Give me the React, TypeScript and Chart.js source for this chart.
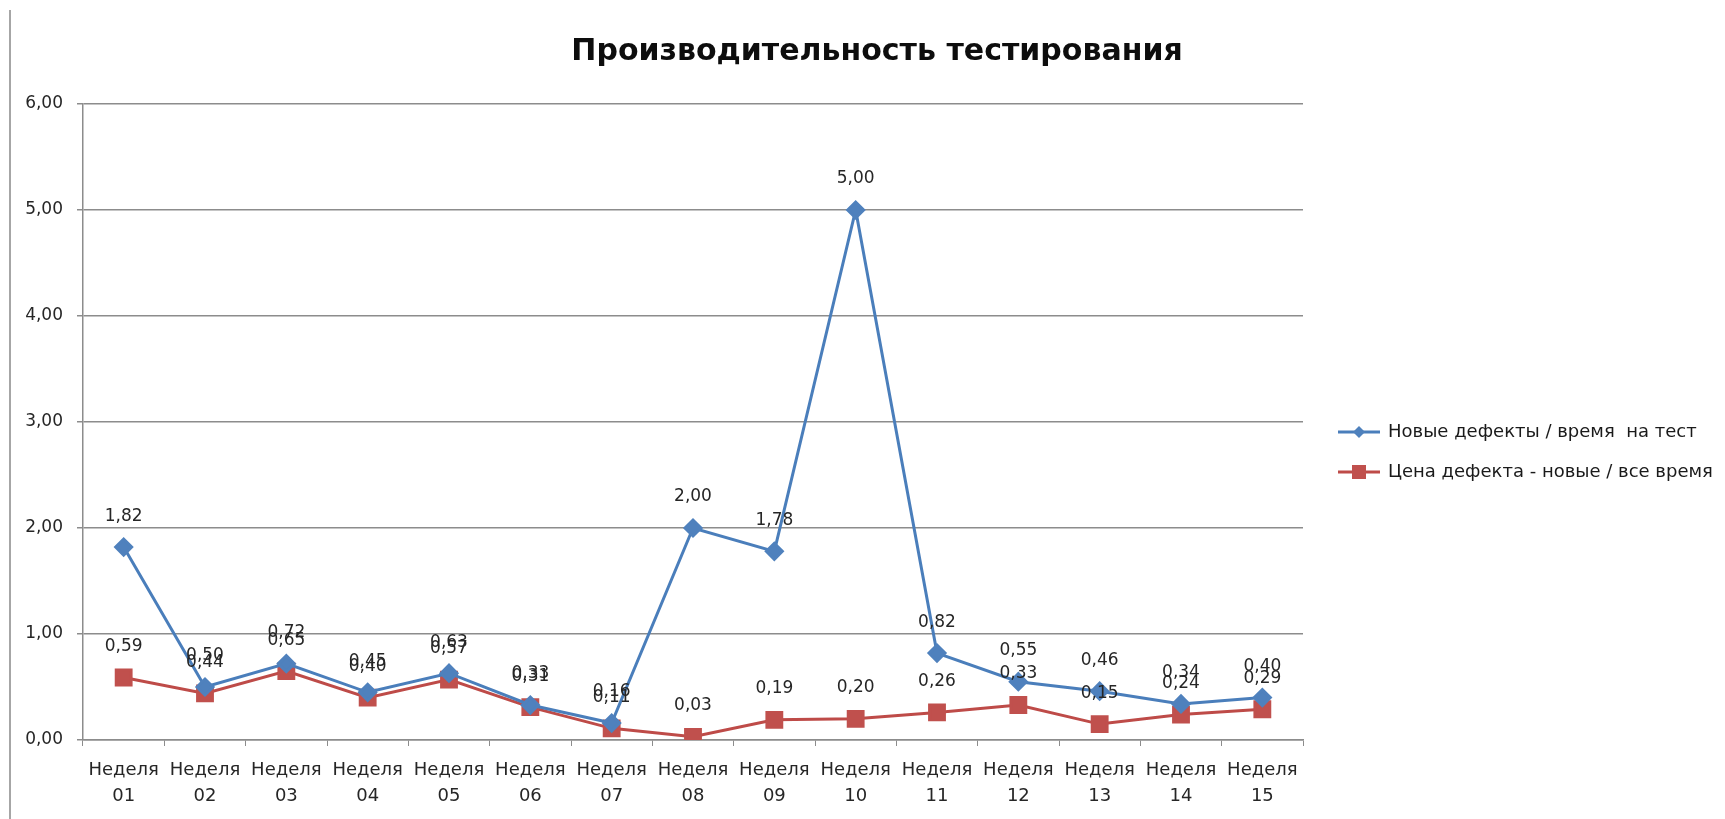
import React, { useEffect, useRef } from 'react';
import { Chart, registerables } from 'chart.js';

Chart.register(...registerables);

const chartTitle = 'Производительность тестирования';
const weekWord = 'Неделя';
const weeks = ['01', '02', '03', '04', '05', '06', '07', '08', '09', '10', '11', '12', '13', '14', '15'];
const seriesNames = ['Новые дефекты / время  на тест', 'Цена дефекта - новые / все время'];
const newDefectsPerTestTime = [1.82, 0.5, 0.72, 0.45, 0.63, 0.33, 0.16, 2.0, 1.78, 5.0, 0.82, 0.55, 0.46, 0.34, 0.4];
const defectCost = [0.59, 0.44, 0.65, 0.4, 0.57, 0.31, 0.11, 0.03, 0.19, 0.2, 0.26, 0.33, 0.15, 0.24, 0.29];
const yMin = 0;
const yMax = 6;
const yStep = 1;

const FONT = '"DejaVu Sans", "Noto Sans", sans-serif';
const fmt = (v: number) => v.toFixed(2).replace('.', ',');

const decorPlugin = {
  id: 'decor',
  beforeDraw(chart: any) {
    const ctx = chart.ctx;
    ctx.save();
    ctx.fillStyle = '#ffffff';
    ctx.fillRect(0, 0, chart.width, chart.height);
    ctx.strokeStyle = '#a6a6a6';
    ctx.lineWidth = 2;
    ctx.beginPath();
    ctx.moveTo(10, 10);
    ctx.lineTo(10, chart.height);
    ctx.stroke();
    ctx.restore();
  },
  afterDatasetsDraw(chart: any) {
    const ctx = chart.ctx;
    const ca = chart.chartArea;
    ctx.save();
    // data labels
    ctx.font = `17px ${FONT}`;
    ctx.fillStyle = '#262626';
    ctx.textAlign = 'center';
    ctx.textBaseline = 'middle';
    chart.data.datasets.forEach((ds: any, i: number) => {
      const meta = chart.getDatasetMeta(i);
      meta.data.forEach((pt: any, j: number) => {
        ctx.fillText(fmt(ds.data[j]), pt.x, pt.y - 31);
      });
    });
    // title
    ctx.font = `bold 30px ${FONT}`;
    ctx.fillStyle = '#0d0d0d';
    ctx.fillText(chartTitle, (ca.left + ca.right) / 2 + 184, 52);
    // legend
    ctx.font = `18px ${FONT}`;
    ctx.textAlign = 'left';
    chart.data.datasets.forEach((ds: any, i: number) => {
      const y = (ca.top + ca.bottom) / 2 + 10 + i * 40;
      const x0 = ca.right + 35;
      ctx.strokeStyle = ds.borderColor;
      ctx.lineWidth = 3;
      ctx.beginPath();
      ctx.moveTo(x0, y);
      ctx.lineTo(x0 + 42, y);
      ctx.stroke();
      ctx.fillStyle = ds.pointBackgroundColor;
      ctx.beginPath();
      if (ds.pointStyle === 'rectRot') {
        const r = 6;
        ctx.moveTo(x0 + 21, y - r);
        ctx.lineTo(x0 + 21 + r, y);
        ctx.lineTo(x0 + 21, y + r);
        ctx.lineTo(x0 + 21 - r, y);
        ctx.closePath();
      } else {
        ctx.rect(x0 + 21 - 7, y - 7, 14, 14);
      }
      ctx.fill();
      ctx.fillStyle = '#1a1a1a';
      ctx.fillText(ds.label, x0 + 50, y);
    });
    ctx.restore();
  },
};

export default function App() {
  const ref = useRef<HTMLCanvasElement | null>(null);

  useEffect(() => {
    document.body.style.margin = '0';
    if (!ref.current) return;
    const chart = new Chart(ref.current, {
      type: 'line',
      data: {
        labels: weeks.map((w) => [weekWord, w]),
        datasets: [
          {
            label: seriesNames[0],
            data: newDefectsPerTestTime,
            borderColor: '#4A7EBB',
            backgroundColor: '#4F81BD',
            pointBackgroundColor: '#4F81BD',
            pointBorderColor: '#4F81BD',
            pointStyle: 'rectRot',
            pointRadius: 8,
            borderWidth: 3,
            tension: 0,
          },
          {
            label: seriesNames[1],
            data: defectCost,
            borderColor: '#BE4B48',
            backgroundColor: '#C0504D',
            pointBackgroundColor: '#C0504D',
            pointBorderColor: '#C0504D',
            pointStyle: 'rect',
            pointRadius: 10.5,
            borderWidth: 3,
            tension: 0,
          },
        ],
      },
      options: {
        animation: false,
        responsive: false,
        events: [],
        layout: { padding: { top: 104, right: 422, left: 0, bottom: 0 } },
        plugins: { legend: { display: false }, title: { display: false }, tooltip: { enabled: false } },
        scales: {
          x: {
            type: 'category',
            offset: true,
            grid: { offset: true, drawOnChartArea: false, drawTicks: true, tickLength: 6, color: '#8c8c8c' },
            border: { color: '#8c8c8c', width: 1.5 },
            ticks: {
              autoSkip: false,
              maxRotation: 0,
              minRotation: 0,
              padding: 11,
              color: '#262626',
              font: { family: FONT, size: 18, lineHeight: 1.45 },
            },
            afterFit: (s: any) => {
              s.height = 79;
            },
          },
          y: {
            min: yMin,
            max: yMax,
            ticks: {
              stepSize: yStep,
              padding: 14,
              color: '#262626',
              font: { family: FONT, size: 17 },
              callback: (v: any) => fmt(Number(v)),
            },
            grid: { color: '#8c8c8c', lineWidth: 1.5, tickLength: 6 },
            border: { color: '#8c8c8c', width: 1.5 },
            afterFit: (s: any) => {
              s.width = 83;
            },
          },
        },
      },
      plugins: [decorPlugin],
    });
    return () => chart.destroy();
  }, []);

  return (
    <div style={{ width: 1725, height: 819, position: 'relative' }}>
      <canvas ref={ref} width={1725} height={819} style={{ display: 'block', width: 1725, height: 819 }} />
    </div>
  );
}
